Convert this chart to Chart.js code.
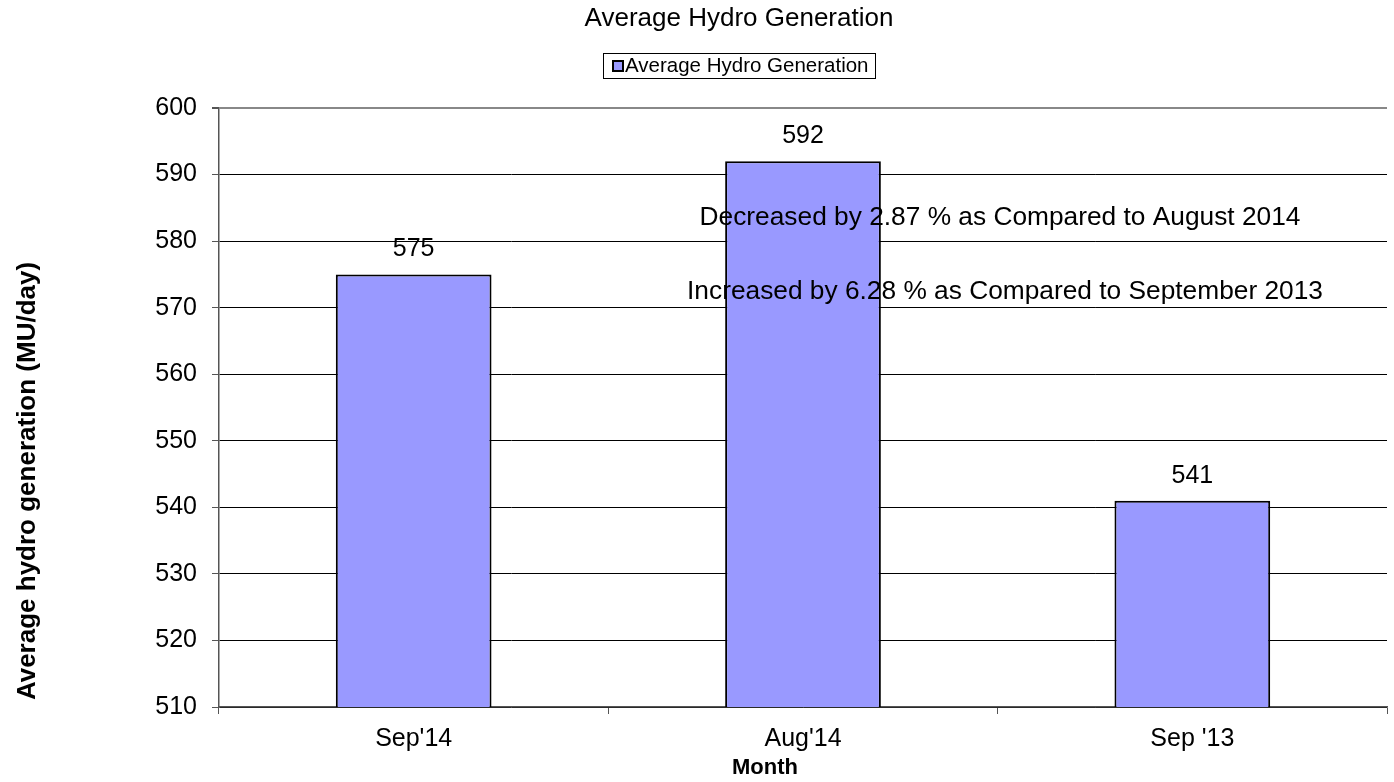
<!DOCTYPE html>
<html lang="en">
<head>
  <meta charset="UTF-8" />
  <title>Average Hydro Generation</title>
  <script src="https://cdn.jsdelivr.net/npm/chart.js"></script>
  <style>
    html, body { margin: 0; padding: 0; background: #fff; }
    #wrap { width: 1394px; height: 782px; }
  </style>
</head>
<body>
  <div id="wrap"><canvas id="hydroChart" width="1394" height="782"></canvas></div>

  <script>
    const months = ["Sep'14", "Aug'14", "Sep '13"];
    const hydroGen = [575, 592, 541];
    const yTicks = [510, 520, 530, 540, 550, 560, 570, 580, 590, 600];
    const notes = [
      "Decreased by 2.87 % as Compared to August 2014",
      "Increased by 6.28 % as Compared to September 2013"
    ];

    const FONT = "'Liberation Sans', Arial, sans-serif";
    const BAR_COLOR = "#9999ff";

    // titles, legend box, value labels and the two notes
    const extras = {
      id: "extras",
      afterDatasetsDraw(chart) {
        const ctx = chart.ctx;
        const { y } = chart.scales;
        ctx.save();
        ctx.fillStyle = "#000";
        ctx.textAlign = "center";
        ctx.textBaseline = "middle";

        // value labels above bars
        ctx.font = "25px " + FONT;
        const meta = chart.getDatasetMeta(0);
        meta.data.forEach((bar, i) => {
          ctx.fillText(String(hydroGen[i]), bar.x, bar.y - 25);
        });

        // notes
        ctx.font = "26.3px " + FONT;
        ctx.fillText(notes[0], 1000, y.getPixelForValue(583.5));
        ctx.fillText(notes[1], 1005, y.getPixelForValue(572.4));

        // chart title
        ctx.font = "26px " + FONT;
        ctx.fillText("Average Hydro Generation", 739, 19);

        // legend
        ctx.strokeStyle = "#000";
        ctx.lineWidth = 1;
        ctx.strokeRect(603.5, 53.5, 272, 25);
        ctx.fillStyle = BAR_COLOR;
        ctx.fillRect(613, 61, 10, 10);
        ctx.lineWidth = 2;
        ctx.strokeRect(613, 61, 10, 10);
        ctx.fillStyle = "#000";
        ctx.font = "20.5px " + FONT;
        ctx.textAlign = "left";
        ctx.fillText("Average Hydro Generation", 625, 66);

        // x axis title
        ctx.textAlign = "center";
        ctx.font = "bold 22px " + FONT;
        ctx.fillText("Month", 765, 768);

        // y axis title
        ctx.translate(28, 481);
        ctx.rotate(-Math.PI / 2);
        ctx.font = "bold 26px " + FONT;
        ctx.fillText("Average hydro generation (MU/day)", 0, 0);
        ctx.restore();
      }
    };

    new Chart(document.getElementById("hydroChart"), {
      type: "bar",
      data: {
        labels: months,
        datasets: [{
          label: "Average Hydro Generation",
          data: hydroGen,
          backgroundColor: BAR_COLOR,
          borderColor: "#000",
          borderWidth: 2,
          borderSkipped: false,
          barPercentage: 0.4,
          categoryPercentage: 1.0
        }]
      },
      options: {
        responsive: false,
        animation: false,
        layout: { padding: { top: 108, right: 7, bottom: 0, left: 0 } },
        plugins: {
          legend: { display: false },
          title: { display: false },
          tooltip: { enabled: false }
        },
        scales: {
          x: {
            offset: true,
            afterFit(scale) { scale.height = 75; },
            grid: {
              offset: true,
              drawOnChartArea: false,
              drawTicks: true,
              tickLength: 7,
              color: "#555"
            },
            border: { color: "#555", width: 1.5 },
            ticks: { color: "#000", padding: 10, font: { family: FONT, size: 25 } }
          },
          y: {
            min: 510,
            max: 600,
            afterFit(scale) { scale.width = 219; },
            afterBuildTicks(scale) { scale.ticks = yTicks.map(v => ({ value: v })); },
            grid: {
              color: ctx => (ctx.tick && ctx.tick.value === 600 ? "#888" : "#000"),
              lineWidth: ctx => (ctx.tick && ctx.tick.value === 600 ? 2 : 1),
              tickColor: "#555",
              tickLength: 7
            },
            border: { color: "#555", width: 1.5 },
            ticks: { color: "#000", padding: 15, font: { family: FONT, size: 25 } }
          }
        }
      },
      plugins: [extras]
    });
  </script>
</body>
</html>
